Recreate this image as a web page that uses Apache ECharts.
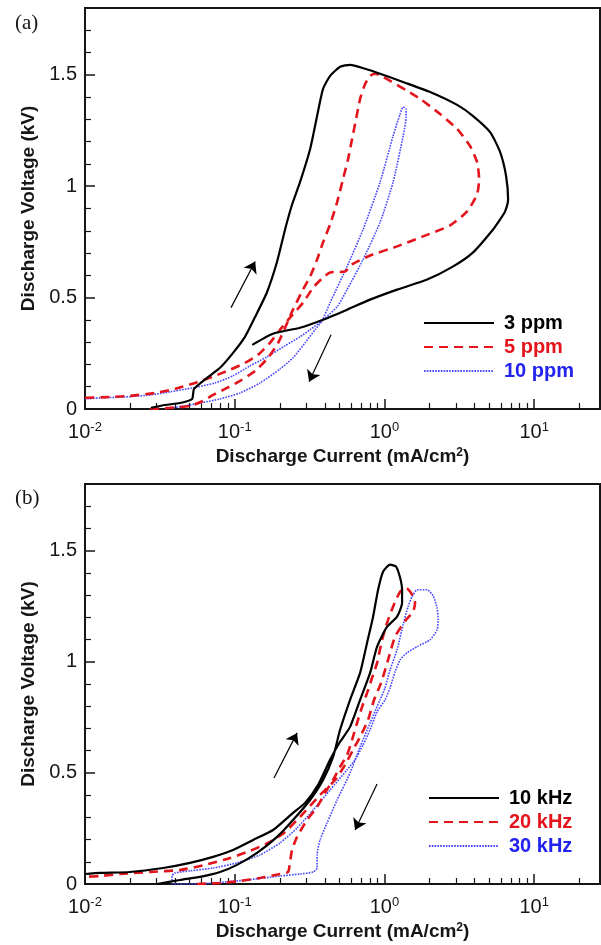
<!DOCTYPE html>
<html><head><meta charset="utf-8">
<script src="https://cdn.jsdelivr.net/npm/echarts@6/dist/echarts.min.js"></script>
<style>html,body{margin:0;padding:0;background:#fff}#c{width:601px;height:945px}</style>
</head><body><div id="c"></div>
<script>
// ---------- data (current in mA/cm^2, voltage in kV) ----------
const xTickExps = [-2, -1, 0, 1];
const yTicks = [0, 0.5, 1, 1.5];

const namesA = ['3 ppm', '5 ppm', '10 ppm'];
const namesB = ['10 kHz', '20 kHz', '30 kHz'];

const ppm3 = [[0.0276,0.005],[0.0342,0.018],[0.0431,0.027],[0.0519,0.045],[0.0535,0.090],[0.0653,0.140],[0.0798,0.185],[0.0975,0.252],[0.117,0.324],[0.137,0.414],[0.164,0.523],[0.192,0.662],[0.217,0.806],[0.242,0.919],[0.273,1.018],[0.319,1.167],[0.355,1.315],[0.389,1.437],[0.434,1.495],[0.506,1.536],[0.590,1.545],[0.743,1.527],[0.935,1.505],[1.33,1.468],[2.02,1.423],[3.06,1.365],[3.91,1.315],[5.08,1.243],[5.93,1.153],[6.50,1.045],[6.70,0.941],[6.40,0.887],[5.93,0.851],[5.32,0.806],[3.91,0.703],[2.88,0.640],[1.93,0.581],[1.215,0.536],[0.802,0.491],[0.563,0.446],[0.389,0.401],[0.273,0.365],[0.180,0.338],[0.131,0.288]];

const ppm5 = [[0.0272,0],[0.0370,0.005],[0.0503,0.014],[0.0614,0.036],[0.0717,0.063],[0.0862,0.090],[0.1085,0.126],[0.137,0.171],[0.167,0.230],[0.195,0.297],[0.217,0.365],[0.245,0.446],[0.286,0.536],[0.319,0.595],[0.355,0.671],[0.389,0.748],[0.434,0.829],[0.483,0.928],[0.529,1.032],[0.572,1.122],[0.608,1.212],[0.647,1.302],[0.688,1.392],[0.743,1.459],[0.802,1.495],[0.866,1.505],[0.980,1.491],[1.091,1.473],[1.417,1.428],[1.731,1.392],[2.355,1.324],[3.059,1.257],[3.736,1.180],[4.160,1.108],[4.290,1.032],[4.160,0.964],[3.567,0.887],[2.746,0.824],[1.813,0.775],[1.215,0.730],[0.802,0.689],[0.608,0.649],[0.546,0.617],[0.434,0.613],[0.383,0.586],[0.334,0.545],[0.286,0.477],[0.234,0.410],[0.201,0.356],[0.172,0.297],[0.143,0.243],[0.117,0.207],[0.093,0.176],[0.0706,0.144],[0.0543,0.117],[0.0399,0.090],[0.0294,0.072],[0.0200,0.059],[0.0147,0.054],[0.0100,0.050]];

const ppm10 = [[0.0342,0],[0.0466,0.014],[0.0587,0.027],[0.0798,0.045],[0.1085,0.072],[0.1477,0.117],[0.2009,0.180],[0.2453,0.230],[0.2951,0.297],[0.3442,0.356],[0.3832,0.396],[0.4335,0.477],[0.5631,0.640],[0.7202,0.806],[0.9354,1.018],[1.142,1.225],[1.273,1.324],[1.333,1.356],[1.395,1.347],[1.395,1.311],[1.333,1.225],[1.142,1.018],[0.9354,0.838],[0.7202,0.671],[0.5631,0.536],[0.4829,0.459],[0.3832,0.396],[0.3187,0.356],[0.2732,0.324],[0.2170,0.284],[0.1644,0.234],[0.1266,0.194],[0.0975,0.149],[0.0739,0.117],[0.0527,0.095],[0.0370,0.077],[0.0272,0.063],[0.0185,0.054],[0.0126,0.050],[0.0100,0.045]];

const khz10 = [[0.0303,0],[0.0431,0.018],[0.0587,0.032],[0.0798,0.054],[0.1036,0.086],[0.1410,0.140],[0.1918,0.212],[0.2453,0.288],[0.3187,0.378],[0.3892,0.468],[0.4539,0.572],[0.5056,0.694],[0.5897,0.829],[0.6878,0.950],[0.7660,1.086],[0.8401,1.203],[0.9074,1.324],[0.9795,1.405],[1.091,1.437],[1.196,1.428],[1.273,1.378],[1.312,1.324],[1.312,1.266],[1.215,1.203],[1.042,1.158],[0.8934,1.068],[0.8022,0.950],[0.6878,0.829],[0.5897,0.707],[0.5056,0.640],[0.4335,0.559],[0.3606,0.446],[0.2951,0.365],[0.2453,0.320],[0.1804,0.243],[0.1326,0.198],[0.0975,0.153],[0.0717,0.122],[0.0503,0.095],[0.0332,0.072],[0.0200,0.054],[0.0126,0.050],[0.0100,0.045]];

const khz20 = [[0.0560,0],[0.0798,0.0045],[0.1085,0.0135],[0.1477,0.027],[0.2009,0.045],[0.2272,0.054],[0.2343,0.099],[0.2415,0.153],[0.2609,0.212],[0.3043,0.288],[0.3550,0.347],[0.4013,0.410],[0.4539,0.468],[0.5056,0.527],[0.5631,0.581],[0.6081,0.649],[0.6568,0.725],[0.7092,0.797],[0.7660,0.860],[0.8272,0.928],[0.8934,0.995],[0.9648,1.099],[1.042,1.176],[1.142,1.248],[1.273,1.315],[1.395,1.333],[1.530,1.302],[1.602,1.266],[1.554,1.225],[1.395,1.189],[1.178,1.113],[1.058,1.009],[0.950,0.905],[0.853,0.829],[0.778,0.739],[0.6878,0.662],[0.6174,0.604],[0.5460,0.536],[0.4681,0.468],[0.3717,0.401],[0.2732,0.302],[0.2170,0.234],[0.1722,0.189],[0.1266,0.149],[0.0931,0.117],[0.0634,0.086],[0.0431,0.063],[0.0272,0.054],[0.0171,0.045],[0.0126,0.036],[0.0100,0.032]];

const khz30 = [[0.0381,0],[0.0503,0],[0.0717,0.0045],[0.1209,0.018],[0.2009,0.036],[0.2732,0.045],[0.3337,0.054],[0.3550,0.072],[0.3550,0.131],[0.3717,0.198],[0.4140,0.275],[0.4829,0.378],[0.5897,0.5],[0.6878,0.617],[0.8022,0.725],[0.9354,0.829],[1.010,0.883],[1.091,0.964],[1.215,1.054],[1.333,1.167],[1.439,1.248],[1.530,1.293],[1.653,1.324],[1.928,1.324],[2.114,1.297],[2.248,1.243],[2.283,1.189],[2.248,1.144],[2.018,1.099],[1.653,1.068],[1.417,1.041],[1.273,1.009],[1.178,0.955],[1.091,0.883],[1.010,0.829],[0.8934,0.775],[0.8022,0.694],[0.7202,0.626],[0.6368,0.559],[0.5631,0.514],[0.4335,0.423],[0.3337,0.333],[0.2609,0.252],[0.2009,0.185],[0.1477,0.131],[0.1036,0.095],[0.0717,0.072],[0.0503,0.059],[0.0399,0.050],[0.0381,0.036],[0.0381,0.009]];

// direction arrows: [tail, head]
const arrowsA = [[[0.0945,0.455],[0.137,0.662]], [[0.440,0.333],[0.314,0.122]]];
const arrowsB = [[[0.183,0.477],[0.261,0.680]], [[0.893,0.450],[0.637,0.243]]];

// ---------- chart ----------
const FONT = "'Liberation Sans', Arial, Helvetica, sans-serif";
const SERIF = "'Liberation Serif', 'Times New Roman', serif";
const INK = '#161616';
const X_MIN = -2, X_MAX = 1.44, Y_MIN = 0, Y_MAX = 1.8;
const toLog = a => a.map(p => [Math.log10(p[0]), p[1]]);
const minorX = [];
for (let n = -2; n <= 1; n++) for (let k = 2; k <= 9; k++) { const v = n + Math.log10(k); if (v < X_MAX) minorX.push(v); }
const minorY = [];
for (let i = 1; i <= 17; i++) if (i % 5) minorY.push(i / 10);

const grids = [
  {left: 85, top: 8, width: 515, height: 401},
  {left: 85, top: 484, width: 515, height: 400}
].map(g => Object.assign(g, {show: true, borderColor: INK, borderWidth: 2, containLabel: false, outerBoundsMode: 'none'}));

const xAxes = [], yAxes = [];
[0, 1].forEach(gi => {
  xAxes.push({
    type: 'value', gridIndex: gi, min: X_MIN, max: X_MAX, position: 'bottom',
    axisLine: {show: true, onZero: false, lineStyle: {color: INK, width: 2}},
    axisTick: {show: true, inside: true, length: 10, customValues: xTickExps, lineStyle: {color: INK, width: 1.5}},
    axisLabel: {
      customValues: xTickExps, margin: 12,
      formatter: v => '{b|10}{s|' + Math.round(v) + '}',
      rich: {
        b: {fontSize: 20, fontFamily: FONT, color: INK, lineHeight: 22},
        s: {fontSize: 13, fontFamily: FONT, color: INK, lineHeight: 22, verticalAlign: 'top'}
      }
    },
    splitLine: {show: false},
    name: 'Discharge Current (mA/cm{s|2})', nameLocation: 'middle', nameGap: 38,
    nameTextStyle: {fontSize: 19, fontWeight: 'bold', fontFamily: FONT, color: INK,
      rich: {s: {fontSize: 12, fontWeight: 'bold', fontFamily: FONT, color: INK, verticalAlign: 'top', lineHeight: 20}}}
  });
  xAxes.push({
    type: 'value', gridIndex: gi, min: X_MIN, max: X_MAX, position: 'bottom',
    axisLine: {show: false, onZero: false},
    axisTick: {show: true, inside: true, length: 6, customValues: minorX, lineStyle: {color: INK, width: 1.2}},
    axisLabel: {show: false}, splitLine: {show: false}
  });
  yAxes.push({
    type: 'value', gridIndex: gi, min: Y_MIN, max: Y_MAX, position: 'left',
    axisLine: {show: true, onZero: false, lineStyle: {color: INK, width: 2}},
    axisTick: {show: true, inside: true, length: 10, customValues: yTicks, lineStyle: {color: INK, width: 1.5}},
    axisLabel: {customValues: yTicks, margin: 8, fontSize: 20, fontFamily: FONT, color: INK},
    splitLine: {show: false},
    name: 'Discharge Voltage (kV)', nameLocation: 'middle', nameGap: 47,
    nameTextStyle: {fontSize: 19, fontWeight: 'bold', fontFamily: FONT, color: INK}
  });
  yAxes.push({
    type: 'value', gridIndex: gi, min: Y_MIN, max: Y_MAX, position: 'left',
    axisLine: {show: false, onZero: false},
    axisTick: {show: true, inside: true, length: 6, customValues: minorY, lineStyle: {color: INK, width: 1.2}},
    axisLabel: {show: false}, splitLine: {show: false}
  });
});

const styles = [
  {color: '#000000', lineStyle: {color: '#000000', width: 2.2, type: 'solid'}, text: '#000000'},
  {color: '#e3141b', lineStyle: {color: '#e3141b', width: 2.6, type: [9, 6]}, text: '#e3141b'},
  {color: '#4646ff', lineStyle: {color: '#4646ff', width: 1.6, type: [1.6, 1.2]}, text: '#2323f0'}
];

function arrowMark(arr) {
  return {
    silent: true, symbol: ['none', 'arrow'], symbolSize: 11, label: {show: false},
    lineStyle: {color: '#000', type: 'solid', width: 1.2}, itemStyle: {color: '#000'},
    emphasis: {disabled: true}, animation: false,
    data: arr.map(a => [{coord: [Math.log10(a[0][0]), a[0][1]]}, {coord: [Math.log10(a[1][0]), a[1][1]]}])
  };
}

const series = [];
[[namesA, [ppm3, ppm5, ppm10], arrowsA], [namesB, [khz10, khz20, khz30], arrowsB]].forEach(([names, sets, arrows], gi) => {
  sets.forEach((d, i) => {
    const s = {
      type: 'line', name: names[i], xAxisIndex: gi * 2, yAxisIndex: gi * 2,
      data: toLog(d), symbol: 'none', showSymbol: false, smooth: 0.2,
      color: styles[i].color, lineStyle: styles[i].lineStyle, z: 3 - i,
      emphasis: {disabled: true}, clip: true
    };
    if (i === 0) s.markLine = arrowMark(arrows);
    series.push(s);
  });
});

function legendFor(names, left, top) {
  return {
    data: names.map((n, i) => ({name: n, textStyle: {color: styles[i].text}})),
    orient: 'vertical', left: left, top: top, padding: 0,
    itemWidth: 70, itemHeight: 14, itemGap: 4, selectedMode: false,
    itemStyle: {color: 'rgba(0,0,0,0)', borderColor: 'rgba(0,0,0,0)', borderWidth: 0, opacity: 0},
    textStyle: {fontSize: 20, fontWeight: 'bold', fontFamily: FONT, lineHeight: 20, padding: [0, 0, 0, 5]}
  };
}

const chart = echarts.init(document.getElementById('c'), null, {renderer: 'canvas'});
chart.setOption({
  animation: false,
  backgroundColor: '#ffffff',
  title: [
    {text: '(a)', left: 10, top: 8, textStyle: {fontFamily: SERIF, fontSize: 21, fontWeight: 'normal', color: INK}},
    {text: '(b)', left: 10, top: 483, textStyle: {fontFamily: SERIF, fontSize: 21, fontWeight: 'normal', color: INK}}
  ],
  grid: grids,
  xAxis: xAxes,
  yAxis: yAxes,
  legend: [legendFor(namesA, 423, 313), legendFor(namesB, 428, 788)],
  series: series
});
</script></body></html>
